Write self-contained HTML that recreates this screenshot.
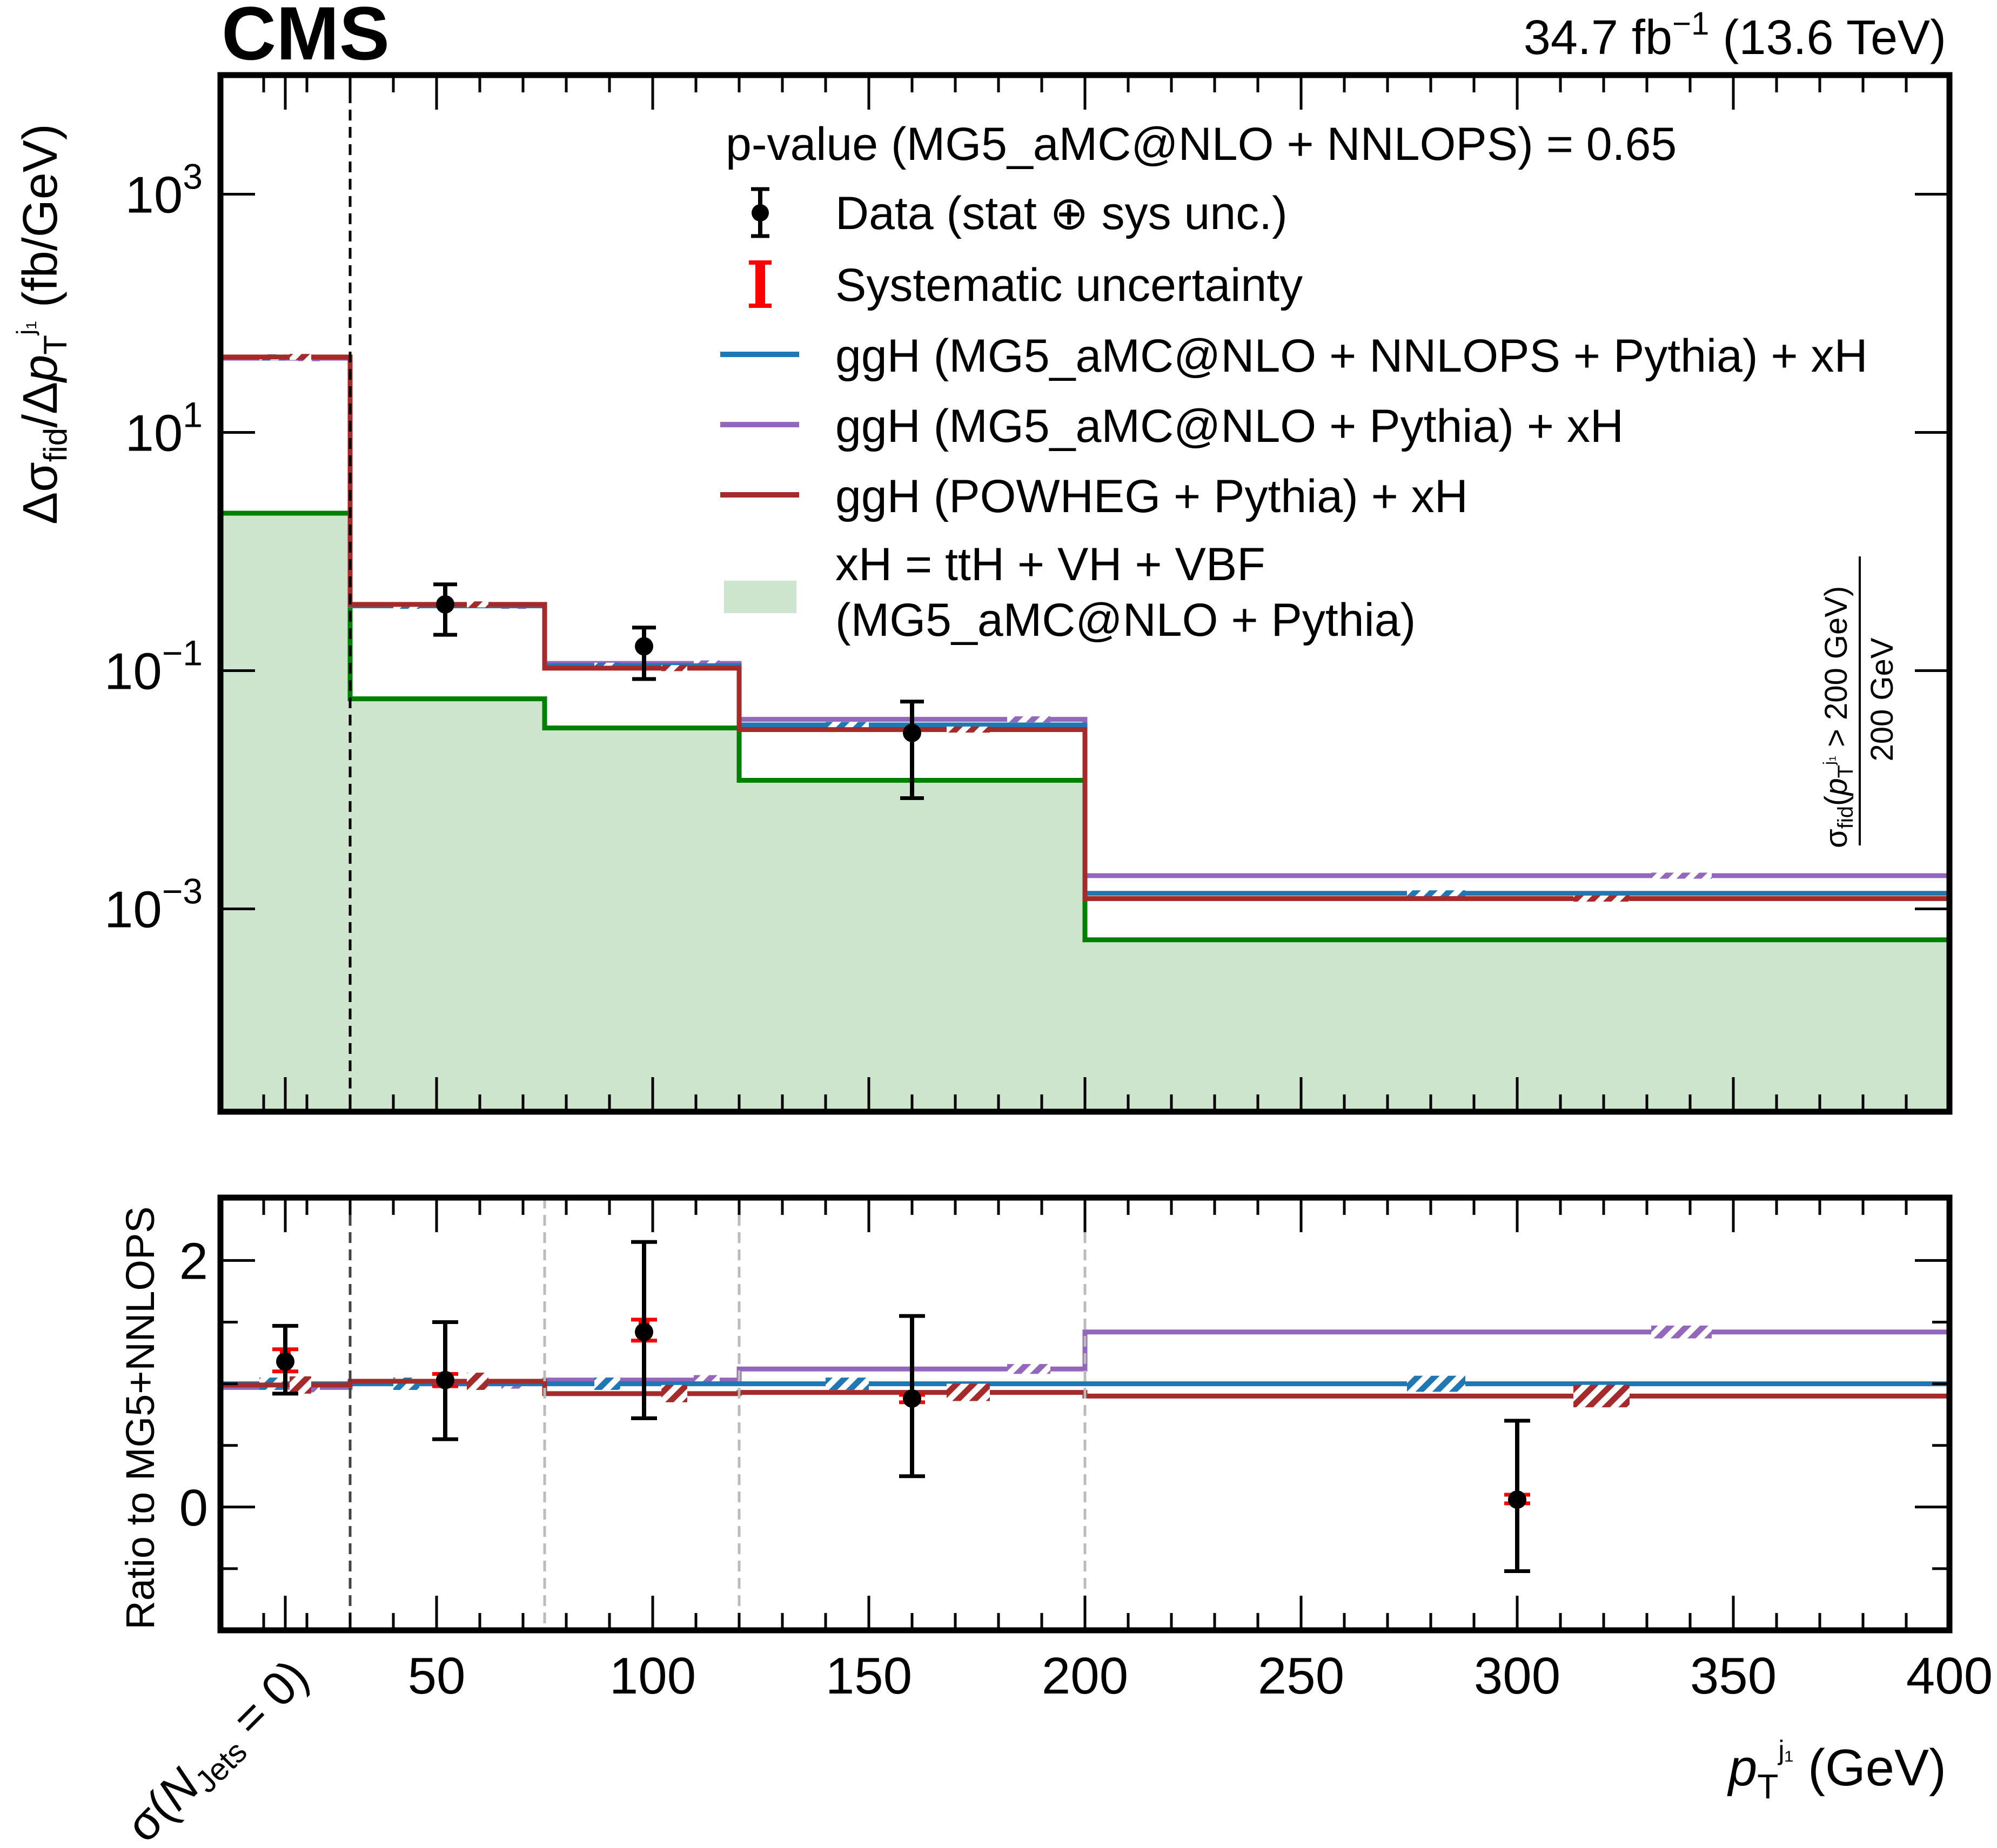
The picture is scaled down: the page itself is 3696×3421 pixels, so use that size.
<!DOCTYPE html>
<html><head><meta charset="utf-8"><style>
html,body{margin:0;padding:0;background:#fff;}
svg{display:block;font-family:"Liberation Sans",Arial,sans-serif;}
</style></head><body>
<svg id="chart" xmlns="http://www.w3.org/2000/svg" width="3696" height="3421" viewBox="0 0 3696 3421">
<defs>
<pattern id="hb" patternUnits="userSpaceOnUse" width="22" height="22" patternTransform="rotate(45)"><rect width="22" height="22" fill="#fff"/><rect width="11" height="22" fill="#1f77b4"/></pattern>
<pattern id="hp" patternUnits="userSpaceOnUse" width="22" height="22" patternTransform="rotate(45)"><rect width="22" height="22" fill="#fff"/><rect width="11" height="22" fill="#9467bd"/></pattern>
<pattern id="hr" patternUnits="userSpaceOnUse" width="22" height="22" patternTransform="rotate(45)"><rect width="22" height="22" fill="#fff"/><rect width="11" height="22" fill="#a52a2a"/></pattern>
</defs>
<g id="main"></g>
<g id="ratio"></g>
<text x="410" y="110" font-size="140" font-weight="bold">CMS</text>
<text x="3602" y="100" font-size="90" text-anchor="end">34.7 fb<tspan dy="-36" font-size="60">−1</tspan><tspan dy="36"> (13.6 TeV)</tspan></text>
<text transform="translate(105,600) rotate(-90)" font-size="90" text-anchor="middle">Δσ<tspan font-size="60" dy="18">fid</tspan><tspan dy="-18">/Δ</tspan><tspan font-style="italic">p</tspan><tspan font-size="60" dy="18">T</tspan><tspan font-size="46" dy="-60">j₁</tspan><tspan dy="42"> (fb/GeV)</tspan></text>
<text transform="translate(285,2625) rotate(-90)" font-size="74" text-anchor="middle">Ratio to MG5+NNLOPS</text>
<text x="3602" y="3305" font-size="96" text-anchor="end"><tspan font-style="italic">p</tspan><tspan font-size="64" dy="24">T</tspan><tspan font-size="50" dy="-72">j₁</tspan><tspan dy="48"> (GeV)</tspan></text>
<text transform="translate(270,3415) rotate(-45)" font-size="88">σ(<tspan font-style="italic">N</tspan><tspan font-size="58" dy="16">Jets</tspan><tspan dy="-16"> = 0)</tspan></text>
<g>
<text transform="translate(3418,1570) rotate(-90)" font-size="58">σ<tspan font-size="40" dy="11">fid</tspan><tspan dy="-11">(</tspan><tspan font-style="italic">p</tspan><tspan font-size="40" dy="11">T</tspan><tspan font-size="30" dy="-34">j₁</tspan><tspan dy="23"> &gt; 200 GeV)</tspan></text>
<line x1="3442" y1="1030" x2="3442" y2="1565" stroke="#000" stroke-width="4"/>
<text transform="translate(3503,1295) rotate(-90)" font-size="58" text-anchor="middle">200 GeV</text>
</g>
<g font-size="86">
<text x="1343" y="296">p-value (MG5_aMC@NLO + NNLOPS) = 0.65</text>
<g>
<line x1="1407" y1="350" x2="1407" y2="437" stroke="#000" stroke-width="8"/><line x1="1390" y1="350" x2="1424" y2="350" stroke="#000" stroke-width="7"/><line x1="1390" y1="437" x2="1424" y2="437" stroke="#000" stroke-width="7"/><circle cx="1407" cy="394" r="16"/>
<text x="1546" y="424">Data (stat ⊕ sys unc.)</text></g>
<g>
<rect x="1398" y="482" width="18" height="88" fill="red"/><rect x="1386" y="482" width="42" height="8" fill="red"/><rect x="1386" y="562" width="42" height="8" fill="red"/>
<text x="1546" y="557">Systematic uncertainty</text></g>
<g><line x1="1333" y1="656" x2="1479" y2="656" stroke="#1f77b4" stroke-width="10"/><text x="1546" y="688">ggH (MG5_aMC@NLO + NNLOPS + Pythia) + xH</text></g>
<g><line x1="1333" y1="786" x2="1479" y2="786" stroke="#9467bd" stroke-width="10"/><text x="1546" y="818">ggH (MG5_aMC@NLO + Pythia) + xH</text></g>
<g><line x1="1333" y1="916" x2="1479" y2="916" stroke="#a52a2a" stroke-width="10"/><text x="1546" y="948">ggH (POWHEG + Pythia) + xH</text></g>
<g><rect x="1340" y="1075" width="134" height="60" fill="#cce5cc"/><text x="1546" y="1074">xH = ttH + VH + VBF</text><text x="1546" y="1177">(MG5_aMC@NLO + Pythia)</text></g>
</g>
</svg>
<script>
const edges=[0,30,75,120,200,400];
const xhVals=[2.1,0.058,0.033,0.012,0.00055];
const nnlopsVals=[42.7,0.35,0.11,0.035,0.00135];
const mg5Vals=[42.0,0.35,0.115,0.039,0.0019];
const powhegVals=[43.0,0.36,0.105,0.032,0.00122];
const dataX=[15,52,98,160];
const dataVals=[null,0.36,0.16,0.03];
const dataLo=[null,0.2,0.085,0.0085];
const dataHi=[null,0.53,0.23,0.055];
const ratioNnlops=[1,1,1,1,1];
const ratioMg5=[0.97,1.0,1.03,1.12,1.42];
const ratioPowheg=[0.99,1.02,0.92,0.93,0.9];
const rDataX=[15,52,98,160,300];
const rDataVals=[1.18,1.03,1.42,0.88,0.06];
const rDataLo=[0.92,0.55,0.72,0.25,-0.52];
const rDataHi=[1.47,1.5,2.15,1.55,0.7];
const rSystLo=[1.1,0.98,1.35,0.85,0.03];
const rSystHi=[1.28,1.08,1.52,0.91,0.1];
const boxNnlops=[[9,15],[40,46],[86.5,92.5],[140,150],[274.5,288]];
const boxPowheg=[[16,21],[57,62],[102,108],[168,178],[313,326]];
const boxMg5=[[18,23],[65,71],[109.5,115.5],[182,192],[331,345]];
const unc=[0.04,0.05,0.07];
const NS="http://www.w3.org/2000/svg";
const X0=408,X1=3608;
const xs=v=>X0+(v-0)*(X1-X0)/400;
const MT=139,MB=2058,LTOP=4,LBOT=-4.703;
const ym=v=>MT+(LTOP-Math.log10(v))*(MB-MT)/(LTOP-LBOT);
const RT=2217,RB=3018;
const yr=v=>RT+(2.51-v)*(RB-RT)/3.51;
function mk(p,t,a){const e=document.createElementNS(NS,t);for(const k in a)e.setAttribute(k,a[k]);p.appendChild(e);return e;}
const main=document.getElementById('main'),ratio=document.getElementById('ratio');
function stepPath(vals,yf){let d='';for(let i=0;i<vals.length;i++){const y=yf(vals[i]);d+=(i?'L':'M')+xs(edges[i])+','+y+'L'+xs(edges[i+1])+','+y;}return d;}
let fd='M'+xs(0)+','+MB;for(let i=0;i<xhVals.length;i++){fd+='L'+xs(edges[i])+','+ym(xhVals[i])+'L'+xs(edges[i+1])+','+ym(xhVals[i]);}fd+='L'+xs(400)+','+MB+'Z';
let e=mk(main,'path',{d:fd,fill:'#cce5cc'});


e=mk(main,'path',{d:stepPath(xhVals,ym),fill:'none',stroke:'#008000','stroke-width':9});


const series=[[mg5Vals,'#9467bd','mg5-line',boxMg5,'hp',ratioMg5],[nnlopsVals,'#1f77b4','nnlops-line',boxNnlops,'hb',ratioNnlops],[powhegVals,'#a52a2a','powheg-line',boxPowheg,'hr',ratioPowheg]];
series.forEach((s,k)=>{
 e=mk(main,'path',{d:stepPath(s[0],ym),fill:'none',stroke:s[1],'stroke-width':9});
 
 
 for(let i=0;i<5;i++){const v=s[0][i];const b=s[3][i];
  e=mk(main,'rect',{x:xs(b[0]),y:ym(v*1.06),width:xs(b[1])-xs(b[0]),height:ym(v/1.06)-ym(v*1.06),fill:'url(#'+s[4]+')'});
  
  }
 e=mk(ratio,'path',{d:stepPath(s[5],yr),fill:'none',stroke:s[1],'stroke-width':9});
 
 
 for(let i=0;i<5;i++){const v=s[5][i];const b=s[3][i];const u=unc[k]*(i==4?1.3:1);
  e=mk(ratio,'rect',{x:xs(b[0]),y:yr(v+u),width:xs(b[1])-xs(b[0]),height:yr(v-u)-yr(v+u),fill:'url(#'+s[4]+')'});
  
  }
});
e=mk(main,'line',{x1:xs(30),y1:MT,x2:xs(30),y2:MB,stroke:'#000','stroke-width':5,'stroke-dasharray':'20,12'});


[30,75,120,200].forEach((b,i)=>{e=mk(ratio,'line',{x1:xs(b),y1:RT,x2:xs(b),y2:RB,stroke:i?'#bbb':'#444','stroke-width':5,'stroke-dasharray':'20,12'});

});
for(let i=0;i<dataX.length;i++){if(dataVals[i]==null)continue;const x=xs(dataX[i]);
 const g=mk(main,'g',{});
 
 
 mk(g,'line',{x1:x,y1:ym(dataLo[i]),x2:x,y2:ym(dataHi[i]),stroke:'#000','stroke-width':8});
 mk(g,'line',{x1:x-22,y1:ym(dataLo[i]),x2:x+22,y2:ym(dataLo[i]),stroke:'#000','stroke-width':7});
 mk(g,'line',{x1:x-22,y1:ym(dataHi[i]),x2:x+22,y2:ym(dataHi[i]),stroke:'#000','stroke-width':7});
 mk(g,'circle',{cx:x,cy:ym(dataVals[i]),r:17});}
for(let i=0;i<rDataX.length;i++){const x=xs(rDataX[i]);
 const g=mk(ratio,'g',{});
 
 
 mk(g,'rect',{x:x-10,y:yr(rSystHi[i]),width:20,height:yr(rSystLo[i])-yr(rSystHi[i]),fill:'red'});
 mk(g,'line',{x1:x-24,y1:yr(rSystHi[i]),x2:x+24,y2:yr(rSystHi[i]),stroke:'red','stroke-width':7});
 mk(g,'line',{x1:x-24,y1:yr(rSystLo[i]),x2:x+24,y2:yr(rSystLo[i]),stroke:'red','stroke-width':7});
 mk(g,'line',{x1:x,y1:yr(rDataLo[i]),x2:x,y2:yr(rDataHi[i]),stroke:'#000','stroke-width':8});
 mk(g,'line',{x1:x-24,y1:yr(rDataLo[i]),x2:x+24,y2:yr(rDataLo[i]),stroke:'#000','stroke-width':7});
 mk(g,'line',{x1:x-24,y1:yr(rDataHi[i]),x2:x+24,y2:yr(rDataHi[i]),stroke:'#000','stroke-width':7});
 mk(g,'circle',{cx:x,cy:yr(rDataVals[i]),r:17});}
function frame(p,t,b,name){e=mk(p,'rect',{x:X0,y:t,width:X1-X0,height:b-t,fill:'none',stroke:'#000','stroke-width':11});
 
 
 const majors=[50,100,150,200,250,300,350];
 for(let v=10;v<400;v+=10){const big=majors.includes(v);const L=big?64:32;const x=xs(v);
  mk(p,'line',{x1:x,y1:t,x2:x,y2:t+L,stroke:'#000','stroke-width':5});mk(p,'line',{x1:x,y1:b,x2:x,y2:b-L,stroke:'#000','stroke-width':5});}
 const x=xs(15);mk(p,'line',{x1:x,y1:t,x2:x,y2:t+64,stroke:'#000','stroke-width':5});mk(p,'line',{x1:x,y1:b,x2:x,y2:b-64,stroke:'#000','stroke-width':5});}
frame(main,MT,MB,'main-frame');frame(ratio,RT,RB,'ratio-frame');
const mainTicks=[1000,10,0.1,0.001];
const mainTickExp=['3','1','−1','−3'];
mainTicks.forEach((v,i)=>{const y=ym(v);mk(main,'line',{x1:X0,y1:y,x2:X0+64,y2:y,stroke:'#000','stroke-width':5});mk(main,'line',{x1:X1,y1:y,x2:X1-64,y2:y,stroke:'#000','stroke-width':5});
 const t=mk(main,'text',{x:375,y:y+34,'font-size':96,'text-anchor':'end'});
 
 
 t.innerHTML='10<tspan dy="-44" font-size="66">'+mainTickExp[i]+'</tspan>';});
const ratioTicks=[2,0];
const ratioMinor=[1.5,1,0.5,-0.5];
ratioTicks.forEach(v=>{const y=yr(v);mk(ratio,'line',{x1:X0,y1:y,x2:X0+64,y2:y,stroke:'#000','stroke-width':5});mk(ratio,'line',{x1:X1,y1:y,x2:X1-64,y2:y,stroke:'#000','stroke-width':5});
 const t=mk(ratio,'text',{x:385,y:y+34,'font-size':96,'text-anchor':'end'});
 
 
 t.textContent=v;});
ratioMinor.forEach(v=>{const y=yr(v);mk(ratio,'line',{x1:X0,y1:y,x2:X0+32,y2:y,stroke:'#000','stroke-width':5});mk(ratio,'line',{x1:X1,y1:y,x2:X1-32,y2:y,stroke:'#000','stroke-width':5});});
const xTicks=[50,100,150,200,250,300,350,400];
xTicks.forEach(v=>{const t=mk(ratio,'text',{x:xs(v),y:3135,'font-size':96,'text-anchor':'middle'});
 
 
 t.textContent=v;});
</script>
</body></html>
